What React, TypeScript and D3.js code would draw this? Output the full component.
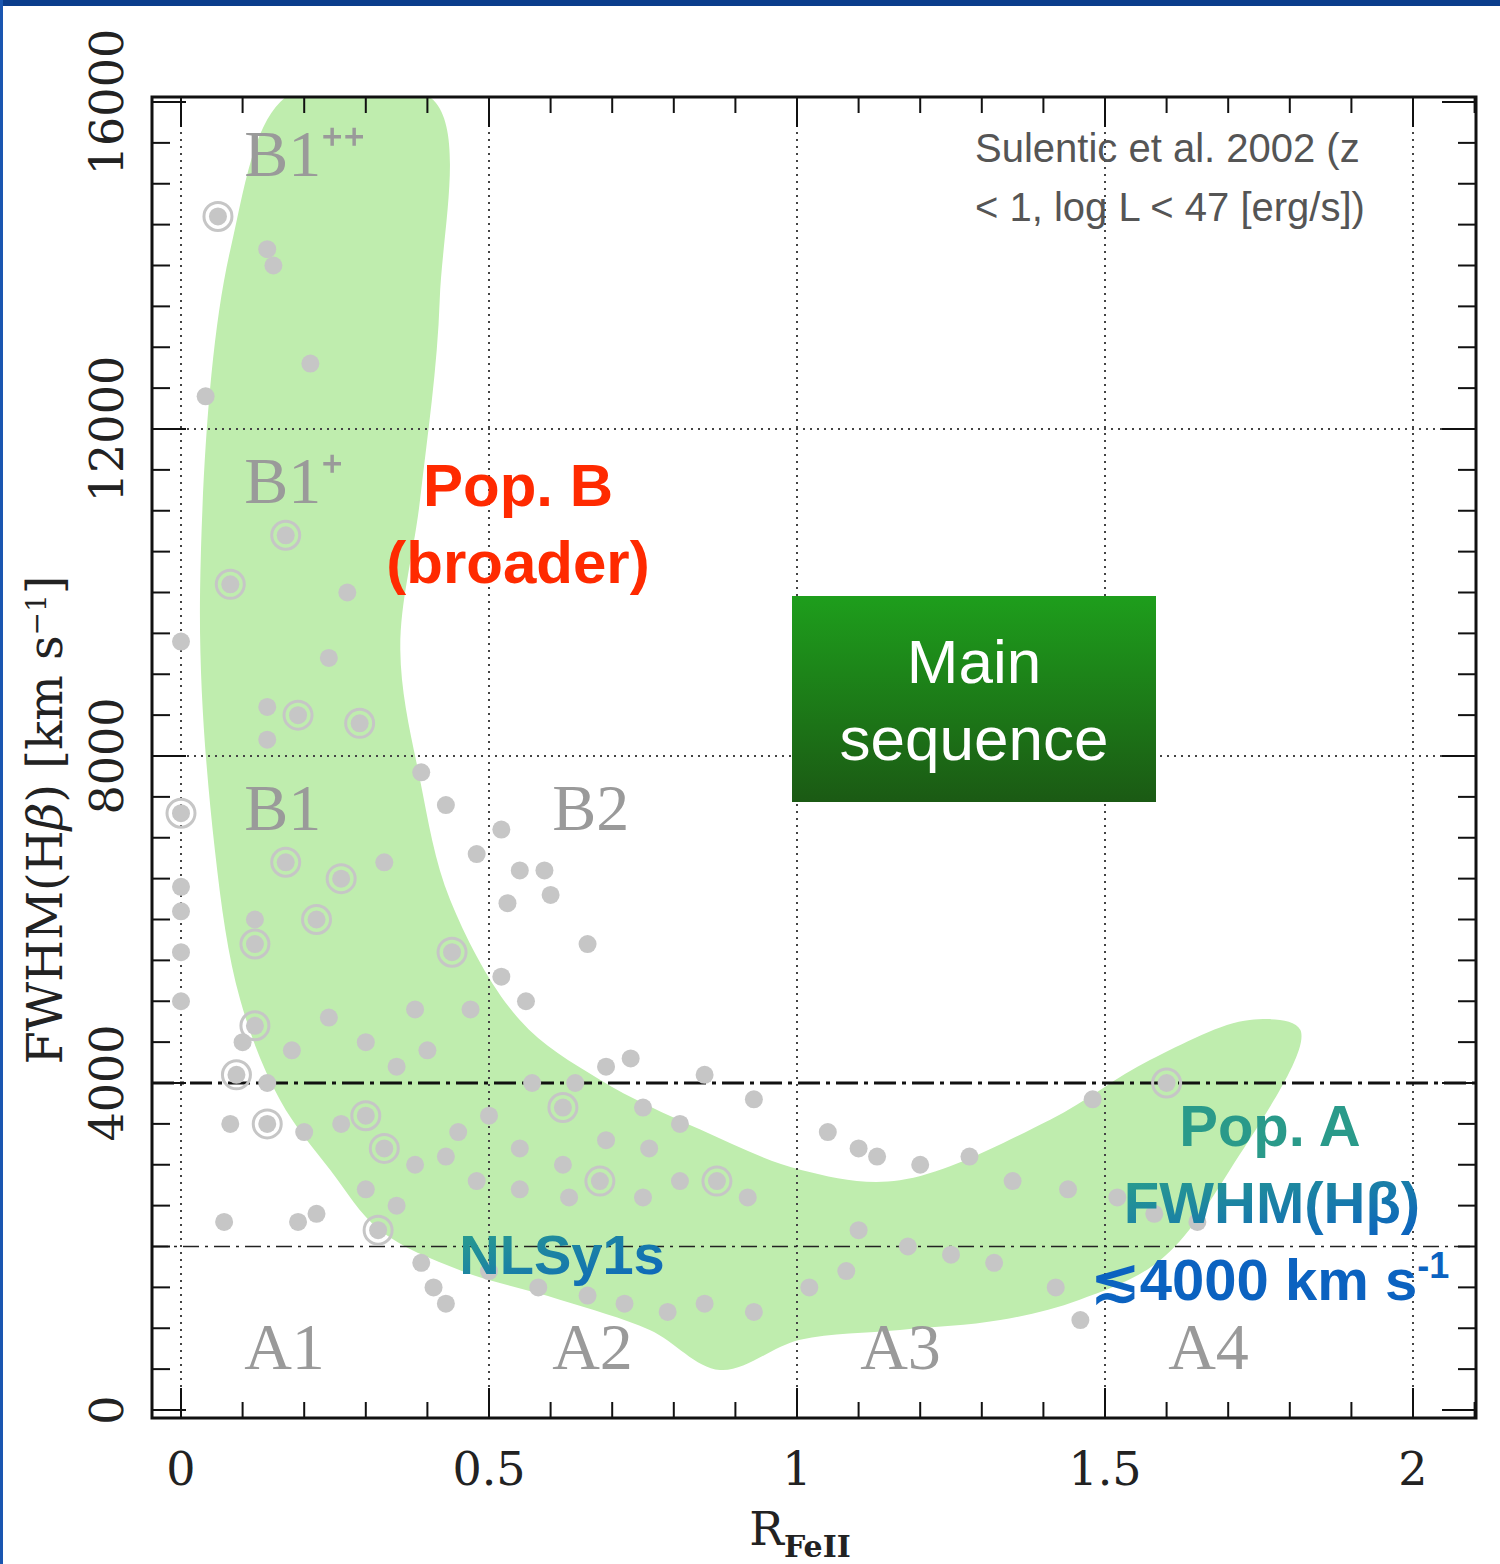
import * as d3 from "d3";

const W = 1500;
const H = 1564;
const PLOT = { left: 152, right: 1476, top: 97, bottom: 1418 };

const xTicks = [0, 0.5, 1, 1.5, 2];
const xTickLabels = ["0", "0.5", "1", "1.5", "2"];
const yTicks = [0, 4000, 8000, 12000, 16000];
const yTickLabels = ["0", "4000", "8000", "12000", "16000"];

// outline of the green density region [RFeII, FWHM]
const blob: [number, number][] = [
  [0.177, 16100], [0.08, 14190], [0.031, 10030], [0.055, 6850], [0.096, 5020],
  [0.161, 3790], [0.242, 2940], [0.323, 2200], [0.453, 1710], [0.615, 1350],
  [0.761, 980], [0.875, 490], [1.005, 860], [1.167, 980], [1.33, 1100],
  [1.459, 1350], [1.589, 1830], [1.703, 2940], [1.817, 4650], [1.735, 4770],
  [1.573, 4280], [1.411, 3550], [1.167, 2810], [1.005, 2940], [0.843, 3430],
  [0.68, 4040], [0.55, 4770], [0.437, 6240], [0.388, 7710], [0.356, 9300],
  [0.388, 11130], [0.42, 13580], [0.41, 16020],
];

// gray sources: [RFeII, FWHM, ringed]
const sources: [number, number, number][] = [
  [0.06, 14600, 1], [0.14, 14200, 0], [0.15, 14000, 0], [0.21, 12800, 0], [0.04, 12400, 0],
  [0, 9400, 0], [0.17, 10700, 1], [0.08, 10100, 1], [0.27, 10000, 0], [0.24, 9200, 0],
  [0.19, 8500, 1], [0.29, 8400, 1], [0.14, 8600, 0], [0.14, 8200, 0], [0, 7300, 1],
  [0.39, 7800, 0], [0.43, 7400, 0], [0.52, 7100, 0], [0.55, 6600, 0], [0.48, 6800, 0],
  [0.53, 6200, 0], [0.6, 6300, 0], [0.59, 6600, 0], [0, 6400, 0], [0, 6100, 0],
  [0, 5600, 0], [0, 5000, 0], [0.17, 6700, 1], [0.26, 6500, 1], [0.33, 6700, 0],
  [0.12, 6000, 0], [0.22, 6000, 1], [0.12, 5700, 1], [0.44, 5600, 1], [0.52, 5300, 0],
  [0.47, 4900, 0], [0.56, 5000, 0], [0.66, 5700, 0], [0.38, 4900, 0], [0.12, 4700, 1],
  [0.1, 4500, 0], [0.09, 4100, 1], [0.14, 4000, 0], [0.18, 4400, 0], [0.24, 4800, 0],
  [0.3, 4500, 0], [0.35, 4200, 0], [0.4, 4400, 0], [0.57, 4000, 0], [0.64, 4000, 0],
  [0.69, 4200, 0], [0.73, 4300, 0], [0.85, 4100, 0], [0.93, 3800, 0], [0.75, 3700, 0],
  [0.5, 3600, 0], [0.62, 3700, 1], [0.81, 3500, 0], [0.69, 3300, 0], [0.76, 3200, 0],
  [0.62, 3000, 0], [0.55, 3200, 0], [0.45, 3400, 0], [0.3, 3600, 1], [0.26, 3500, 0],
  [0.2, 3400, 0], [0.14, 3500, 1], [0.08, 3500, 0], [0.33, 3200, 1], [0.38, 3000, 0],
  [0.43, 3100, 0], [0.48, 2800, 0], [0.55, 2700, 0], [0.63, 2600, 0], [0.68, 2800, 1],
  [0.75, 2600, 0], [0.81, 2800, 0], [0.87, 2800, 1], [0.92, 2600, 0], [1.05, 3400, 0],
  [1.1, 3200, 0], [1.13, 3100, 0], [1.2, 3000, 0], [1.28, 3100, 0], [1.48, 3800, 0],
  [1.35, 2800, 0], [1.44, 2700, 0], [1.52, 2600, 0], [1.58, 2400, 0], [1.65, 2300, 0],
  [1.6, 4000, 1], [1.1, 2200, 0], [1.18, 2000, 0], [1.25, 1900, 0], [1.32, 1800, 0],
  [1.42, 1500, 0], [1.46, 1100, 0], [0.35, 2500, 0], [0.3, 2700, 0], [0.22, 2400, 0],
  [0.07, 2300, 0], [0.19, 2300, 0], [0.32, 2200, 1], [0.39, 1800, 0], [0.41, 1500, 0],
  [0.43, 1300, 0], [0.5, 1700, 0], [0.58, 1500, 0], [0.66, 1400, 0], [0.72, 1300, 0],
  [0.79, 1200, 0], [0.85, 1300, 0], [0.93, 1200, 0], [1.02, 1500, 0], [1.08, 1700, 0],
];

const regionLabels: [string, number, number][] = [
  ["B1⁺⁺", 0.2, 15100], ["B1⁺", 0.2, 11100], ["B1", 0.2, 7100], ["B2", 0.7, 7100],
  ["A1", 0.2, 500], ["A2", 0.7, 500], ["A3", 1.2, 500], ["A4", 1.7, 500],
];

const x = d3.scaleLinear().domain([0, 2]).range([181, 1413]);
const y = d3.scaleLinear().domain([0, 16000]).range([1410, 102]);

export default function App() {
  const blobPath = d3
    .line<[number, number]>()
    .x((d) => x(d[0]))
    .y((d) => y(d[1]))
    .curve(d3.curveCatmullRomClosed)(blob) ?? "";
  const minorX = d3.range(0, 2.101, 0.1);
  const minorY = d3.range(0, 16001, 500);
  const serif = "'DejaVu Serif', 'Liberation Serif', serif";
  const thinSerif = "'Liberation Serif', serif";
  const sans = "'Helvetica', 'Liberation Sans', Arial, sans-serif";

  return (
    <svg width={W} height={H} style={{ position: "absolute", left: 0, top: 0, background: "#fff" }}>
      <defs>
        <linearGradient id="ms" x1="0" y1="0" x2="0" y2="1">
          <stop offset="0" stopColor="#1e9e1c" />
          <stop offset="1" stopColor="#1b5a14" />
        </linearGradient>
        <linearGradient id="teal" x1="0" y1="0" x2="1" y2="1">
          <stop offset="0" stopColor="#2aa08a" />
          <stop offset="1" stopColor="#0b62c0" />
        </linearGradient>
        <clipPath id="plot">
          <rect x={PLOT.left} y={PLOT.top} width={PLOT.right - PLOT.left} height={PLOT.bottom - PLOT.top} />
        </clipPath>
      </defs>
      <rect x={0} y={0} width={W} height={6} fill="#0b3d8c" />
      <rect x={0} y={0} width={3} height={H} fill="#1a56b0" />

      <g clipPath="url(#plot)">
        <path d={blobPath} fill="#bfedae" />
      </g>

      {/* grid */}
      {xTicks.map((t) => (
        <line key={"gx" + t} x1={x(t)} x2={x(t)} y1={PLOT.top} y2={PLOT.bottom} stroke="#444" strokeWidth={2} strokeDasharray="2,5" />
      ))}
      {[8000, 12000].map((t) => (
        <line key={"gy" + t} x1={PLOT.left} x2={PLOT.right} y1={y(t)} y2={y(t)} stroke="#444" strokeWidth={2} strokeDasharray="2,5" />
      ))}
      <line x1={PLOT.left} x2={PLOT.right} y1={y(4000)} y2={y(4000)} stroke="#111" strokeWidth={3} strokeDasharray="22,6,4,6" />
      <line x1={PLOT.left} x2={PLOT.right} y1={y(2000)} y2={y(2000)} stroke="#222" strokeWidth={1.5} strokeDasharray="16,6,3,6" />

      {sources.map((s, i) => (
        <g key={i}>
          <circle cx={x(s[0])} cy={y(s[1])} r={9} fill="#c6c6c6" />
          {s[2] ? <circle cx={x(s[0])} cy={y(s[1])} r={14} fill="none" stroke="#c6c6c6" strokeWidth={3} /> : null}
        </g>
      ))}

      {/* frame and ticks */}
      <rect x={PLOT.left} y={PLOT.top} width={PLOT.right - PLOT.left} height={PLOT.bottom - PLOT.top} fill="none" stroke="#111" strokeWidth={3} />
      {minorX.map((t, i) => {
        const len = i % 5 === 0 ? 30 : 16;
        return (
          <g key={"tx" + i} stroke="#111" strokeWidth={2}>
            <line x1={x(t)} x2={x(t)} y1={PLOT.bottom} y2={PLOT.bottom - len} />
            <line x1={x(t)} x2={x(t)} y1={PLOT.top} y2={PLOT.top + len} />
          </g>
        );
      })}
      {minorY.map((t, i) => {
        const len = i % 8 === 0 ? 34 : 18;
        return (
          <g key={"ty" + i} stroke="#111" strokeWidth={2}>
            <line x1={PLOT.left} x2={PLOT.left + len} y1={y(t)} y2={y(t)} />
            <line x1={PLOT.right} x2={PLOT.right - len} y1={y(t)} y2={y(t)} />
          </g>
        );
      })}
      {xTicks.map((t, i) => (
        <text key={"lx" + t} x={x(t)} y={1485} textAnchor="middle" fontFamily={serif} fontSize={46} fill="#222">
          {xTickLabels[i]}
        </text>
      ))}
      {yTicks.map((t, i) => (
        <text key={"ly" + t} transform={`translate(123,${y(t)}) rotate(-90)`} textAnchor="middle" fontFamily={serif} fontSize={46} fill="#222">
          {yTickLabels[i]}
        </text>
      ))}
      <text x={800} y={1545} textAnchor="middle" fontFamily={serif} fontSize={46} fill="#222">
        R<tspan fontSize={30} dy={12} fontWeight="bold">FeII</tspan>
      </text>
      <text transform="translate(62,820) rotate(-90)" textAnchor="middle" fontFamily={serif} fontSize={48} fill="#222">
        FWHM(H<tspan fontStyle="italic">β</tspan>)  [km s<tspan fontSize={28} dy={-16}>−1</tspan><tspan dy={16}>]</tspan>
      </text>

      {regionLabels.map(([l, a, b]) => (
        <text key={l} x={x(a) - 60} y={y(b)} textAnchor="start" fontFamily={thinSerif} fontSize={66} fill="#9a9a9a">
          {l}
        </text>
      ))}

      <text x={975} y={162} fontFamily={sans} fontSize={40} fill="#555">Sulentic et al. 2002 (z</text>
      <text x={975} y={221} fontFamily={sans} fontSize={40} fill="#555">&lt; 1, log L &lt; 47 [erg/s])</text>

      <text x={518} y={506} textAnchor="middle" fontFamily={sans} fontWeight="bold" fontSize={60} fill="#ff2a00">Pop. B</text>
      <text x={518} y={583} textAnchor="middle" fontFamily={sans} fontWeight="bold" fontSize={60} fill="#ff2a00">(broader)</text>

      <rect x={792} y={596} width={364} height={206} fill="url(#ms)" />
      <text x={974} y={683} textAnchor="middle" fontFamily={sans} fontSize={62} fill="#fff">Main</text>
      <text x={974} y={760} textAnchor="middle" fontFamily={sans} fontSize={62} fill="#fff">sequence</text>

      <text x={562} y={1274} textAnchor="middle" fontFamily={sans} fontWeight="bold" fontSize={56} fill="url(#teal)">NLSy1s</text>
      <text x={1270} y={1146} textAnchor="middle" fontFamily={sans} fontWeight="bold" fontSize={58} fill="#2a9a8a">Pop. A</text>
      <text x={1272} y={1223} textAnchor="middle" fontFamily={sans} fontWeight="bold" fontSize={58} fill="url(#teal)">FWHM(Hβ)</text>
      <text x={1270} y={1300} textAnchor="middle" fontFamily={sans} fontWeight="bold" fontSize={58} fill="#0b62c0">
        ≲4000 km s<tspan fontSize={36} dy={-22}>-1</tspan>
      </text>
    </svg>
  );
}
